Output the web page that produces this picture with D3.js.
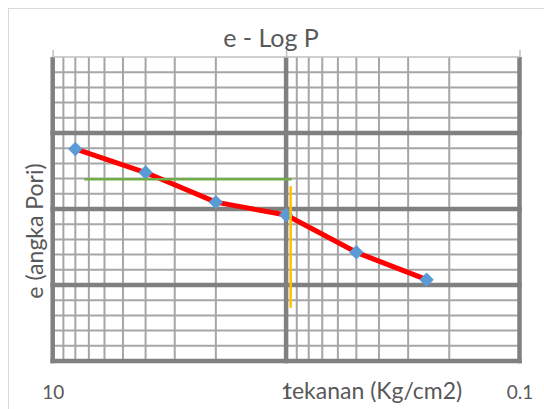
<!DOCTYPE html>
<html>
<head>
<meta charset="utf-8">
<script src="https://cdn.jsdelivr.net/npm/d3@7"></script>
<style>
  body { margin: 0; background: #fff; }
  svg { display: block; }
  text { font-family: Lato, "Noto Sans", sans-serif; fill: #595959; }
</style>
</head>
<body>
<svg id="chart" width="544" height="409"></svg>
<script>
// pressure (kg/cm2) and void ratio readings
var pressure = [8, 4, 2, 1, 0.5, 0.25];
var voidRatio = [0.679, 0.648, 0.609, 0.592, 0.543, 0.507];

// helper lines drawn on the chart
var greenLine = [[7.32, 0.639], [0.946, 0.639]];
var orangeLine = [[0.956, 0.630], [0.956, 0.470]];

var xMajor = [10, 1, 0.1];
var xLabels = ["10", "1", "0.1"];
var yDomain = [0.4, 0.8];

var svg = d3.select("#chart");

var x = d3.scaleLog().domain([10, 0.1]).range([52.7, 519.5]);
var y = d3.scaleLinear().domain(yDomain).range([361, 57]);

// outer chart border
svg.append("rect")
  .attr("x", 8.5).attr("y", 8.5)
  .attr("width", 600).attr("height", 500)
  .attr("fill", "none")
  .attr("stroke", "#d9d9d9");

var grid = svg.append("g");

// minor gridlines
var xMinor = x.ticks().filter(function (d) { return xMajor.indexOf(d) < 0; });
var yMinor = d3.range(0, 21).map(function (i) { return +(0.4 + i * 0.02).toFixed(2); })
  .filter(function (d) { return Math.round(d * 100) % 10 !== 0; });

grid.selectAll(".vmin").data(xMinor).enter().append("line")
  .attr("x1", x).attr("x2", x)
  .attr("y1", y(0.8)).attr("y2", y(0.4))
  .attr("stroke", "#a6a6a6").attr("stroke-width", 2);

grid.selectAll(".hmin").data(yMinor).enter().append("line")
  .attr("x1", x(10)).attr("x2", x(0.1))
  .attr("y1", y).attr("y2", y)
  .attr("stroke", "#a6a6a6").attr("stroke-width", 2);

// major gridlines
grid.selectAll(".hmaj").data([0.4, 0.5, 0.6, 0.7]).enter().append("line")
  .attr("x1", x(10) - 2.3).attr("x2", x(0.1) + 2.3)
  .attr("y1", y).attr("y2", y)
  .attr("stroke", "#808080").attr("stroke-width", 4.5);

grid.selectAll(".vmaj").data(xMajor).enter().append("line")
  .attr("x1", x).attr("x2", x)
  .attr("y1", y(0.8)).attr("y2", y(0.4) + 2.3)
  .attr("stroke", "#808080").attr("stroke-width", 4.5);

// horizontal axis line sits on top, labels at the bottom
var topAxis = svg.append("g")
  .attr("transform", "translate(0," + y(0.8) + ")")
  .call(d3.axisTop(x).tickValues(xMajor).tickSize(7).tickFormat(""));
topAxis.selectAll("path, line").attr("stroke", "#bfbfbf").attr("stroke-width", 1.5);
topAxis.select(".domain").attr("d", "M" + x(10) + ",0H" + x(0.1));

var bottomAxis = svg.append("g")
  .attr("transform", "translate(0,399)")
  .call(d3.axisBottom(x).tickValues(xMajor).tickSize(0).tickPadding(0)
    .tickFormat(function (d, i) { return xLabels[i]; }));
bottomAxis.select(".domain").remove();
bottomAxis.selectAll("text")
  .attr("dy", 0)
  .attr("font-family", "Lato, sans-serif")
  .attr("font-size", 19)
  .attr("fill", "#595959");

// data series
var pts = pressure.map(function (p, i) { return [p, voidRatio[i]]; });

svg.append("path")
  .datum(pts)
  .attr("fill", "none")
  .attr("stroke", "#ff0000")
  .attr("stroke-width", 5)
  .attr("stroke-linejoin", "round")
  .attr("d", d3.line().x(function (d) { return x(d[0]); }).y(function (d) { return y(d[1]); }));

svg.selectAll(".marker").data(pts).enter().append("path")
  .attr("d", d3.symbol(d3.symbolSquare, 104))
  .attr("transform", function (d) { return "translate(" + x(d[0]) + "," + y(d[1]) + ") rotate(45)"; })
  .attr("fill", "#5b9bd5");

var seg = d3.line().x(function (d) { return x(d[0]); }).y(function (d) { return y(d[1]); });

svg.append("path").datum(greenLine)
  .attr("d", seg).attr("stroke", "#70ad47").attr("stroke-width", 2.5).attr("fill", "none");

svg.append("path").datum(orangeLine)
  .attr("d", seg).attr("stroke", "#ffc000").attr("stroke-width", 2.5).attr("fill", "none");

// titles
svg.append("text")
  .attr("x", 271).attr("y", 47)
  .attr("text-anchor", "middle")
  .attr("font-size", 25)
  .text("e - Log P");

svg.append("text")
  .attr("x", 373).attr("y", 399)
  .attr("text-anchor", "middle")
  .attr("font-size", 23)
  .text("tekanan (Kg/cm2)");

svg.append("text")
  .attr("transform", "translate(43,231) rotate(-90)")
  .attr("text-anchor", "middle")
  .attr("font-size", 23)
  .text("e (angka Pori)");
</script>
</body>
</html>
